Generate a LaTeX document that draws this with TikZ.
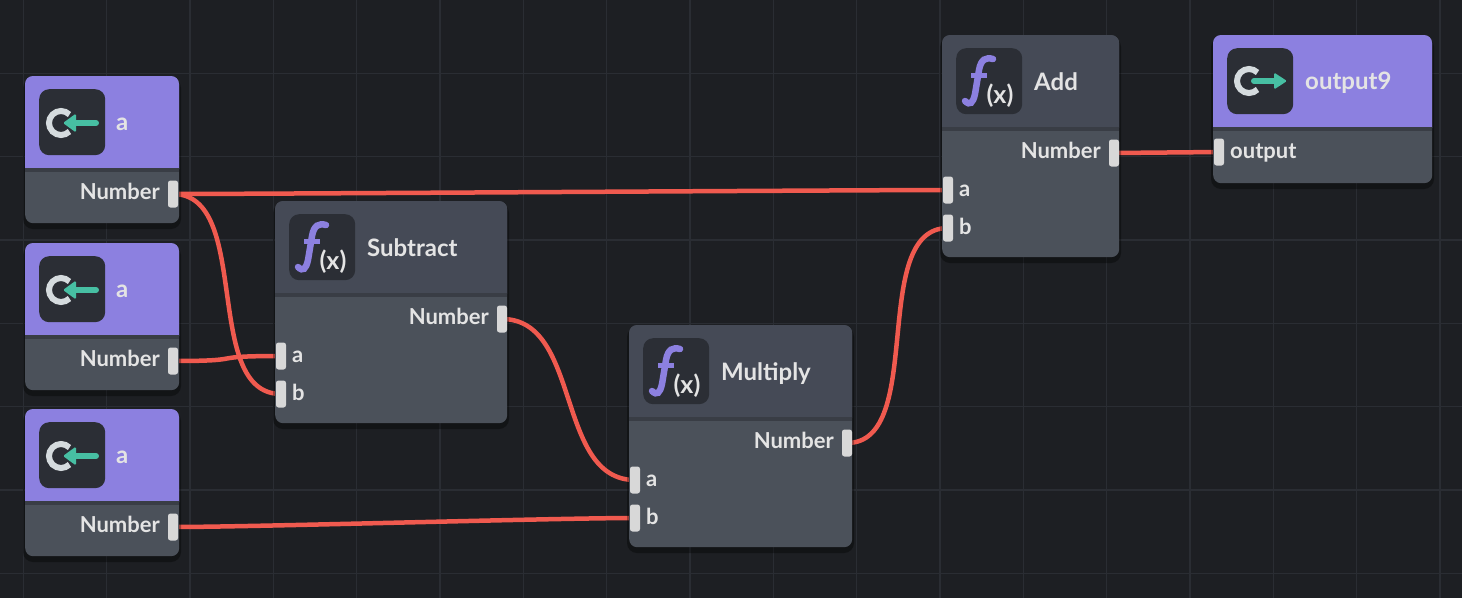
\documentclass[tikz,border=0pt]{standalone}
\usepackage{fontspec}
\setmainfont{Lato}
\definecolor{bgcol}{HTML}{1D1F23}
\definecolor{gridcol}{HTML}{2A2D33}
\definecolor{purp}{HTML}{8C80E0}
\definecolor{headcol}{HTML}{454A56}
\definecolor{bodycol}{HTML}{4B515A}
\definecolor{sepcol}{HTML}{393D45}
\definecolor{iconcol}{HTML}{2B2E35}
\definecolor{txt}{HTML}{E4E4E4}
\definecolor{wirecol}{HTML}{F05A4F}
\definecolor{portcol}{HTML}{D8D8D8}
\definecolor{tealc}{HTML}{47BFA3}
\definecolor{cgray}{HTML}{D5DBDE}
\pgfdeclarelayer{bgl}
\pgfdeclarelayer{wires}
\pgfsetlayers{bgl,wires,main}
\tikzset{
  port/.style={fill=portcol, rounded corners=2.5pt, minimum width=10pt, minimum height=27pt, inner sep=0pt},
  wire/.style={draw=wirecol, line width=4.5pt},
  title/.style={font=\fontsize{24}{28}\selectfont\bfseries, text=txt, inner sep=0pt},
  plabel/.style={font=\fontsize{22}{26}\selectfont\bfseries, text=txt, inner sep=0pt},
  iconbox/.style={fill=iconcol, rounded corners=10pt, minimum size=66pt, inner sep=0pt, anchor=north west},
  nodebody/.style={fill=bodycol, rounded corners=8pt, inner sep=0pt, anchor=north west},
  gridline/.style={draw=gridcol, line width=1.3pt},
  shadowfill/.style={fill=black, opacity=.35, rounded corners=10pt},
}
\newcommand\myshadow[4]{\fill[shadowfill] (#1-2,#2+2) rectangle (#1+#3+2,#2+#4+6);}
\newcommand\myheader[5]{% X Y W headerheight color
  \fill[#5] (#1,#2+#4) [rounded corners=8pt] -- (#1,#2) -- (#1+#3,#2) [sharp corners] -- (#1+#3,#2+#4) -- cycle;
  \fill[sepcol] (#1,#2+#4-1) rectangle (#1+#3,#2+#4+3);
}
\newcommand\fxicon[1]{%
  \begin{scope}[shift={(#1.north west)}]
    \draw[purp, line width=6.5pt, line cap=round] (9,53) .. controls (14,58) and (17,55) .. (19,46) -- (23,22) .. controls (25,11) and (30,9) .. (37,11);
    \draw[purp, line width=5pt] (15,27) -- (31,27);
    \node[font=\fontsize{25}{28}\selectfont\bfseries, text=txt, inner sep=0pt] at (44,48) {(x)};
  \end{scope}}
\newcommand\inicon[1]{%
  \begin{scope}[shift={(#1.north west)}]
    \draw[cgray, line width=6pt] (22,34) ++(45:12) arc[start angle=45, end angle=315, radius=12];
    \draw[tealc, line width=6pt, line cap=round] (57,34) -- (35,34);
    \fill[tealc, rounded corners=1.5pt] (24,34) -- (37,24.5) -- (37,43.5) -- cycle;
  \end{scope}}
\newcommand\outicon[1]{%
  \begin{scope}[shift={(#1.north west)}]
    \draw[cgray, line width=6pt] (22,33) ++(45:12) arc[start angle=45, end angle=315, radius=12];
    \draw[tealc, line width=6pt, line cap=round] (27,33) -- (49,33);
    \fill[tealc, rounded corners=1.5pt] (60,33) -- (47,24.5) -- (47,41.5) -- cycle;
  \end{scope}}
\newcommand\fnnode[5]{% name X Y W title
  \myshadow{#2}{#3}{#4}{222}
  \node[nodebody, minimum width=#4pt, minimum height=222pt] (#1) at (#2,#3) {};
  \myheader{#2}{#3}{#4}{93}{headcol}
  \node[iconbox] (#1-icon) at (#2+14,#3+13) {};
  \fxicon{#1-icon}
  \node[title, anchor=base west] (#1-title) at (#2+92,#3+55) {#5};
  \node[port] (#1-out) at (#2+#4-5,#3+118) {};
  \node[plabel, anchor=base east] (#1-outlabel) at (#2+#4-18,#3+123.5) {Number};
  \node[port] (#1-a) at (#2+6,#3+155) {};
  \node[plabel, anchor=base west] (#1-alabel) at (#2+17,#3+161) {a};
  \node[port] (#1-b) at (#2+6,#3+193) {};
  \node[plabel, anchor=base west] (#1-blabel) at (#2+17,#3+199) {b};
}
\newcommand\innode[3]{% name X Y
  \myshadow{#2}{#3}{154}{147}
  \node[nodebody, minimum width=154pt, minimum height=147pt] (#1) at (#2,#3) {};
  \myheader{#2}{#3}{154}{93}{purp}
  \node[iconbox] (#1-icon) at (#2+14,#3+13) {};
  \inicon{#1-icon}
  \node[title, anchor=base west] (#1-title) at (#2+91,#3+54) {a};
  \node[port] (#1-out) at (#2+148,#3+118) {};
  \node[plabel, anchor=base east] (#1-outlabel) at (#2+135,#3+123.5) {Number};
}
\begin{document}
\begin{tikzpicture}[x=1pt,y=-1pt]
\useasboundingbox (0,0) rectangle (1462,598);
\begin{pgfonlayer}{bgl}
  \fill[bgcol] (0,0) rectangle (1462,598);
  \foreach \i in {0,...,17} \draw[gridline] ({23.3+83.33*\i},0) -- ({23.3+83.33*\i},598);
  \foreach \j in {0,...,6} \draw[gridline] (0,{73.3+83.33*\j}) -- (1462,{73.3+83.33*\j});
\end{pgfonlayer}

\innode{in1}{25}{76}
\innode{in2}{25}{243}
\innode{in3}{25}{409}
\fnnode{sub}{275}{201}{232}{Subtract}
\fnnode{mul}{629}{325}{223}{Multiply}
\fnnode{add}{942}{35}{177}{Add}

% output node
\myshadow{1213}{35}{219}{148}
\node[nodebody, minimum width=219pt, minimum height=148pt] (out) at (1213,35) {};
\myheader{1213}{35}{219}{93}{purp}
\node[iconbox] (out-icon) at (1227,48) {};
\outicon{out-icon}
\node[title, anchor=base west] (out-title) at (1305,89) {output9};
\node[port] (out-in) at (1219,152) {};
\node[plabel, anchor=base west] (out-inlabel) at (1230,158) {output};

\begin{pgfonlayer}{wires}
  \draw[wire] (in1-out.center) .. controls +(80,0) and +(-80,0) .. (add-a.center);
  \draw[wire] (in1-out.center) .. controls +(80,0) and +(-80,0) .. (sub-b.center);
  \draw[wire] (in2-out.center) .. controls +(80,0) and +(-80,0) .. (sub-a.center);
  \draw[wire] (sub-out.center) .. controls +(80,0) and +(-80,0) .. (mul-a.center);
  \draw[wire] (in3-out.center) .. controls +(80,0) and +(-80,0) .. (mul-b.center);
  \draw[wire] (mul-out.center) .. controls +(80,0) and +(-80,0) .. (add-b.center);
  \draw[wire] (add-out.center) -- (out-in.center);
\end{pgfonlayer}
\end{tikzpicture}
\end{document}
